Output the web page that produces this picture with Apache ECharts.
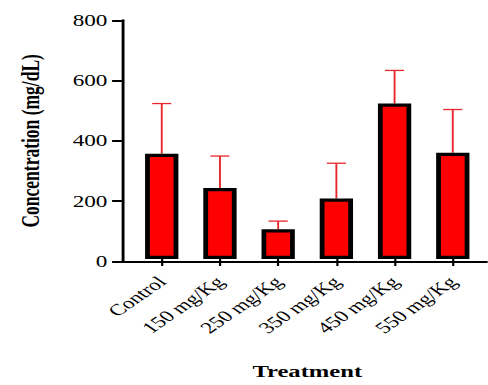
<!DOCTYPE html>
<html>
<head>
<meta charset="utf-8">
<script src="https://cdn.jsdelivr.net/npm/echarts@6/dist/echarts.min.js"></script>
<style>
  html, body { margin: 0; padding: 0; background: #fff; overflow: hidden; }
  /* the figure is laid out narrow and widened horizontally, like the exported graph */
  #chart { width: 337px; height: 385px; transform: scaleX(1.448); transform-origin: 0 0; }
</style>
</head>
<body>
<div id="chart"></div>
<script>
// Treatment groups and measured concentrations (mg/dL): mean and SD
const categories = ['Control', '150 mg/Kg', '250 mg/Kg', '350 mg/Kg', '450 mg/Kg', '550 mg/Kg'];
const means = [353, 238, 100, 203, 521, 356];
const sds = [168, 107, 27, 118, 111, 145];
const yMin = 0, yMax = 800, yStep = 200;

const serif = '"Liberation Serif", "Times New Roman", serif';
const chart = echarts.init(document.getElementById('chart'), null, { renderer: 'svg' });

const errorData = means.map((m, i) => [i, m, sds[i]]);

chart.setOption({
  animation: false,
  backgroundColor: '#fff',
  grid: [
    // frame grid: carries the y axis and the full-width baseline
    { left: 85, right: 1, top: 20.3, bottom: 123.7 },
    // plotting grid for the bars, inset from the y axis
    { left: 91.6, right: 4.2, top: 20.3, bottom: 123.7 }
  ],
  xAxis: [
    {
      gridIndex: 0, type: 'value', min: 0, max: 1,
      axisLine: { show: true, onZero: false, lineStyle: { color: '#000', width: 2 } },
      axisTick: { show: false }, axisLabel: { show: false }, splitLine: { show: false }
    },
    {
      gridIndex: 1, type: 'category', data: categories,
      axisLine: { show: false },
      axisTick: { show: true, alignWithLabel: true, length: 7, lineStyle: { color: '#000', width: 1.5 } },
      axisLabel: { interval: 0, rotate: 45, margin: 20, fontFamily: serif, fontSize: 16, color: '#000' },
      name: 'Treatment', nameLocation: 'middle', nameGap: 104,
      nameTextStyle: { fontFamily: serif, fontWeight: 'bold', fontSize: 17, color: '#000' }
    }
  ],
  yAxis: [
    {
      gridIndex: 0, type: 'value', min: yMin, max: yMax, interval: yStep,
      axisLine: { show: true, lineStyle: { color: '#000', width: 2 } },
      axisTick: { show: true, length: 7.6, lineStyle: { color: '#000', width: 2 } },
      axisLabel: { margin: 10.8, fontFamily: serif, fontSize: 16, color: '#000' },
      splitLine: { show: false },
      name: 'Concentration (mg/dL)', nameLocation: 'middle', nameGap: 55,
      nameTextStyle: { fontFamily: serif, fontWeight: 'bold', fontSize: 17.5, color: '#000' }
    },
    { gridIndex: 1, type: 'value', min: yMin, max: yMax, interval: yStep, show: false }
  ],
  series: [
    {
      type: 'custom', xAxisIndex: 1, yAxisIndex: 1, z: 2,
      data: errorData,
      renderItem(params, api) {
        const i = api.value(0), m = api.value(1), sd = api.value(2);
        const base = api.coord([i, m]);
        const top = api.coord([i, m + sd]);
        const half = 6.6;
        const style = { stroke: '#e8262b', lineWidth: 1.3 };
        return {
          type: 'group',
          children: [
            { type: 'line', shape: { x1: base[0], y1: base[1], x2: top[0], y2: top[1] }, style },
            { type: 'line', shape: { x1: top[0] - half, y1: top[1], x2: top[0] + half, y2: top[1] }, style }
          ]
        };
      }
    },
    {
      type: 'bar', xAxisIndex: 1, yAxisIndex: 1, z: 3,
      data: means, barWidth: 23,
      itemStyle: { color: '#ff0000', borderColor: '#000', borderWidth: 3.3 }
    }
  ]
});
</script>
</body>
</html>
